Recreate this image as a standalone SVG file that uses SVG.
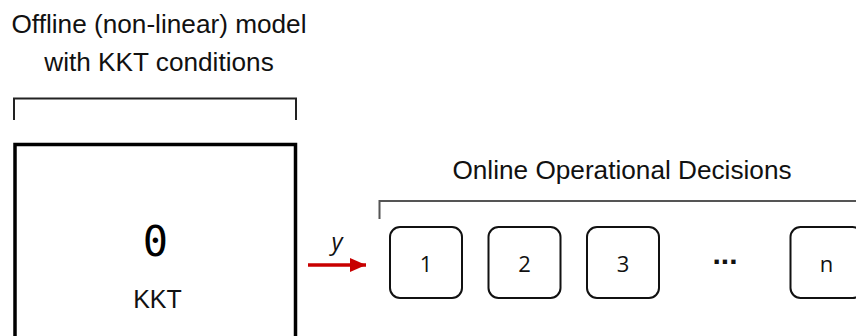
<svg xmlns="http://www.w3.org/2000/svg" width="856" height="336" viewBox="0 0 856 336">
  <style>
    .title { font-family: "Liberation Sans", Arial, sans-serif; font-size: 26.2px; fill: #111; text-anchor: middle; }
    .box { fill: #fff; stroke: #111; stroke-width: 2; }
    .num { font-family: "Open Sans", "Liberation Sans", sans-serif; font-size: 22px; fill: #111; text-anchor: middle; }
    .brk { fill: none; stroke: #222; stroke-width: 2; }
  </style>
  <defs>
    <marker id="arrowRed" markerUnits="userSpaceOnUse" markerWidth="16" markerHeight="14" refX="16" refY="7" orient="auto">
      <path d="M0,0 L16,7 L0,14 Z" fill="#c80000"/>
    </marker>
  </defs>
  <rect width="856" height="336" fill="#fff"/>

  <g id="offline-title">
    <text class="title" x="159" y="33">Offline (non-linear) model</text>
    <text class="title" x="159" y="71">with KKT conditions</text>
    <path class="brk" d="M14,120 V98.5 H296 V120"/>
  </g>

  <g id="kkt-node">
    <rect x="15" y="144.5" width="280.5" height="220" fill="#fff" stroke="#000" stroke-width="3.5"/>
    <text x="155.5" y="256" font-family="'DejaVu Sans Mono', monospace" font-size="42" text-anchor="middle" fill="#000">0</text>
    <text x="157.5" y="308" font-family="'Liberation Sans', Arial, sans-serif" font-size="25" text-anchor="middle" fill="#111">KKT</text>
  </g>

  <g id="online-title">
    <text class="title" x="622" y="179">Online Operational Decisions</text>
    <path d="M379.5,219 V201 H856" fill="none" stroke="#555" stroke-width="2"/>
  </g>

  <g id="connectors">
    <line x1="308" y1="265" x2="366" y2="265" stroke="#c80000" stroke-width="3.5" marker-end="url(#arrowRed)"/>
    <text x="337" y="250" font-family="'Open Sans', 'Liberation Sans', sans-serif" font-style="italic" font-size="24" text-anchor="middle" fill="#111">y</text>
  </g>

  <g id="node-1">
    <rect class="box" x="390" y="227" width="72" height="71" rx="10"/>
    <text class="num" x="426" y="272">1</text>
  </g>
  <g id="node-2">
    <rect class="box" x="488.5" y="227" width="72" height="71" rx="10"/>
    <text class="num" x="524.5" y="272">2</text>
  </g>
  <g id="node-3">
    <rect class="box" x="587" y="227" width="72" height="71" rx="10"/>
    <text class="num" x="623" y="272">3</text>
  </g>
  <g id="ellipsis">
    <text x="725" y="264" font-family="'Liberation Sans', Arial, sans-serif" font-weight="bold" font-size="30" text-anchor="middle" fill="#111">...</text>
  </g>
  <g id="node-n">
    <rect class="box" x="790.5" y="227" width="72" height="71" rx="10"/>
    <text class="num" x="826.5" y="272">n</text>
  </g>
</svg>
